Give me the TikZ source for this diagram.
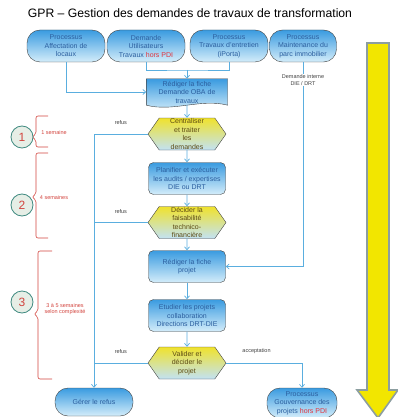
\documentclass[tikz,border=0pt]{standalone}
\usepackage{fontspec}
\setmainfont{Liberation Sans}
\usetikzlibrary{shapes.symbols,arrows.meta,backgrounds}
\definecolor{boxtop}{HTML}{3A9BE0}
\definecolor{boxbot}{HTML}{D4EDFA}
\definecolor{boxtext}{HTML}{2B5E9E}
\definecolor{hexyel}{HTML}{F0E22C}
\definecolor{hexblue}{HTML}{C2E2F4}
\definecolor{hextext}{HTML}{5C4A12}
\definecolor{flowblue}{HTML}{5AAEDF}
\definecolor{weekred}{HTML}{D2443E}
\definecolor{horsred}{HTML}{E2323C}
\definecolor{circfill}{HTML}{E6EEE6}
\definecolor{circline}{HTML}{3F8A80}
\definecolor{arrowyel}{HTML}{F2E600}
\definecolor{arrowgray}{HTML}{8C9EA0}

\begin{document}
\begin{tikzpicture}[x=1pt,y=-1pt,
  txt/.style={font=\fontsize{7}{8.5}\selectfont, align=center, inner sep=0pt},
  proc/.style={txt, draw=black!75, top color=boxtop, bottom color=boxbot, text=boxtext, rounded corners=13pt, minimum height=32pt},
  tache/.style={txt, draw=black!75, top color=boxtop, bottom color=boxbot, text=boxtext, rounded corners=5pt, minimum width=77pt, minimum height=32pt},
  decis/.style={txt, signal, signal to=west and east, signal pointer angle=110, draw=black!75, top color=hexyel, bottom color=hexblue, text=hextext, minimum width=78pt, minimum height=32pt},
  flow/.style={draw=flowblue, line width=.7pt, -{Straight Barb[length=3pt,width=5pt]}},
  lien/.style={draw=flowblue, line width=.7pt},
  lbl/.style={font=\fontsize{5.5}{6.5}\selectfont, text=black!75, align=center, inner sep=1pt},
  sem/.style={lbl, text=weekred},
  etape/.style={circle, draw=circline, line width=.8pt, fill=circfill, text=weekred, font=\fontsize{12}{12}\selectfont, minimum size=22pt, inner sep=0pt},
  accol/.style={draw=weekred, line width=.6pt, rounded corners=2pt}]
\useasboundingbox (0,0) rectangle (398,417);

\node[txt, font=\fontsize{12.2}{14}\selectfont] (titre) at (190,13) {GPR – Gestion des demandes de travaux de transformation};

\node[proc, minimum width=78pt] (affect) at (66,46) {Processus\\Affectation de\\locaux};
\node[proc, minimum width=78pt] (demande) at (146,46) {Demande\\Utilisateurs\\Travaux \textcolor{horsred}{hors PDI}};
\node[proc, minimum width=78pt] (entretien) at (229,46) {Processus\\Travaux d'entretien\\(iPorta)};
\node[proc, minimum width=67pt] (maint) at (303,46) {Processus\\Maintenance du\\parc immobilier};

\node[txt, text=boxtext, minimum width=81pt, minimum height=26pt] (ficheoba) at (187,92) {Rédiger la fiche\\Demande OBA de\\travaux};
\begin{scope}[on background layer]
\path[draw=black!75, top color=boxtop, bottom color=boxbot] (ficheoba.north west) -- (ficheoba.north east) -- (ficheoba.south east) .. controls +(-27,-7) and +(27,7) .. (ficheoba.south west) -- cycle;
\end{scope}
\node[decis] (central) at (187,134) {Centraliser\\et traiter\\les\\demandes};
\node[tache] (planif) at (187,178.5) {Planifier et exécuter\\les audits / expertises\\DIE ou DRT};
\node[decis] (decider) at (187,222.5) {Décider la\\faisabilité\\technico-\\financière};
\node[tache] (ficheprojet) at (187,266.5) {Rédiger la fiche\\projet};
\node[tache] (etudier) at (187,315.5) {Etudier les projets\\collaboration\\Directions DRT-DIE};
\node[decis] (valider) at (187,363) {Valider et\\décider le\\projet};
\node[proc, minimum width=78pt, minimum height=28pt] (refus) at (94,402) {Gérer le refus};
\node[proc, minimum width=70pt, minimum height=30pt] (gouv) at (302,403) {Processus\\Gouvernance des\\projets \textcolor{horsred}{hors PDI}};

\node[lbl] (interne) at (303,80) {Demande interne\\DIE / DRT};
\coordinate (jonction) at (187,70);

\draw[flow] (affect) |- (ficheoba);
\draw[lien] (demande) |- (jonction) -| (entretien);
\draw[flow] (jonction) -- (ficheoba);
\draw[lien] (maint) -- (interne);
\draw[flow] (interne) |- (ficheprojet);
\draw[flow] (ficheoba) -- (central);
\draw[flow] (central) -- (planif);
\draw[flow] (planif) -- (decider);
\draw[flow] (decider) -- (ficheprojet);
\draw[flow] (ficheprojet) -- (etudier);
\draw[flow] (etudier) -- (valider);
\draw[flow] (central) -| node[lbl, pos=.25, above=8pt] (r1) {refus} (refus);
\draw[lien] (decider.west) -- node[lbl, above=8pt] (r2) {refus} (decider.west -| refus);
\draw[lien] (valider.west) -- node[lbl, above=8pt] (r3) {refus} (valider.west -| refus);
\draw[flow] (valider) -| node[lbl, pos=.2, above=8pt] (accept) {acceptation} (gouv);

\draw[accol] (48,116) -- (36,116) -- (36,134) -- (32,137) -- (36,140) -- (36,147) -- (48,147);
\draw[accol] (48,153) -- (36,153) -- (36,194) -- (32,197) -- (36,200) -- (36,238) -- (48,238);
\draw[accol] (52,251) -- (38,251) -- (38,311) -- (34,314) -- (38,317) -- (38,379) -- (52,379);
\node[etape] (e1) at (22,137) {1};
\node[etape] (e2) at (22,205) {2};
\node[etape] (e3) at (22,302) {3};
\node[sem] (s1) at (54,133) {1 semaine};
\node[sem] (s2) at (54,198) {4 semaines};
\node[sem] (s3) at (65,309) {3 à 5 semaines\\selon complexité};

\path[draw=arrowgray, line width=1.6pt, fill=arrowyel] (367,43) -- (389,43) -- (389,390) -- (398,390) -- (378,418) -- (357,390) -- (367,390) -- cycle;
\end{tikzpicture}
\end{document}
